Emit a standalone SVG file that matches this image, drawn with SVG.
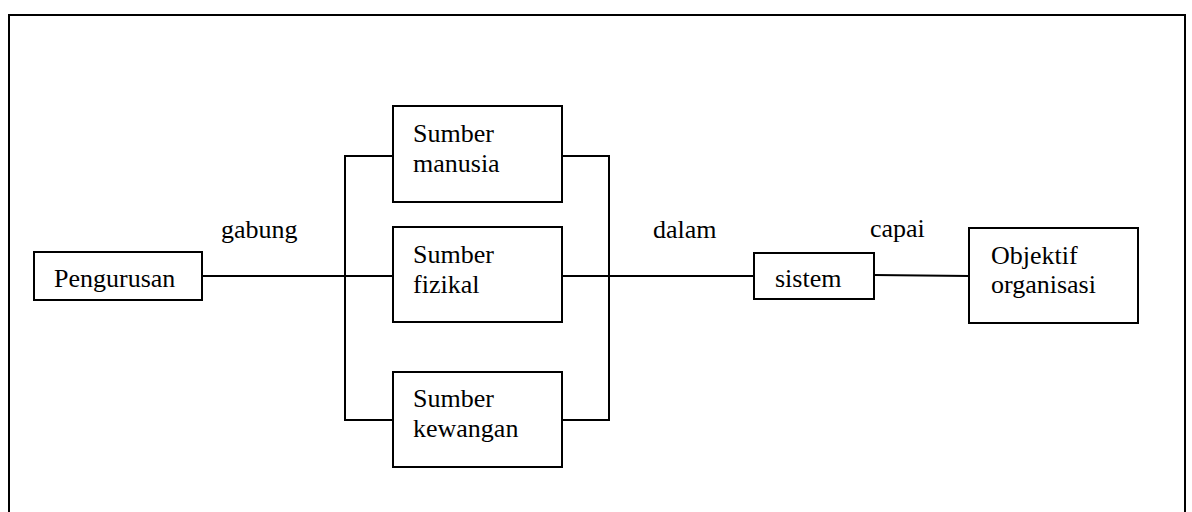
<svg xmlns="http://www.w3.org/2000/svg" width="1192" height="512" viewBox="0 0 1192 512">
<style>
.box{fill:#fff;stroke:#000;stroke-width:2}
.ln{fill:none;stroke:#000;stroke-width:2}
.t{font-family:'Liberation Serif','Times New Roman','DejaVu Serif',serif;font-size:26px;fill:#000}
</style>
<rect x="0" y="0" width="1192" height="512" fill="#fff"/>
<path class="ln" d="M9,530 V15 H1185 V530"/>
<g id="connectors">
<path class="ln" d="M202,276 H345"/>
<path class="ln" d="M393,156 H345 V420 H393"/>
<path class="ln" d="M345,276 H393"/>
<path class="ln" d="M562,156 H609 V420 H562"/>
<path class="ln" d="M562,276 H754"/>
<path class="ln" d="M874,275 L969,276"/>
<text class="t" x="221" y="238">gabung</text>
<text class="t" x="653" y="238">dalam</text>
<text class="t" x="870" y="237">capai</text>
</g>
<g id="pengurusan">
<rect class="box" x="34" y="252" width="168" height="48"/>
<text class="t" x="54" y="287">Pengurusan</text>
</g>
<g id="sumber-manusia">
<rect class="box" x="393" y="106" width="169" height="96"/>
<text class="t" x="413" y="142">Sumber</text>
<text class="t" x="413" y="172">manusia</text>
</g>
<g id="sumber-fizikal">
<rect class="box" x="393" y="227" width="169" height="95"/>
<text class="t" x="413" y="263">Sumber</text>
<text class="t" x="413" y="293">fizikal</text>
</g>
<g id="sumber-kewangan">
<rect class="box" x="393" y="372" width="169" height="95"/>
<text class="t" x="413" y="407">Sumber</text>
<text class="t" x="413" y="437">kewangan</text>
</g>
<g id="sistem">
<rect class="box" x="754" y="253" width="120" height="46"/>
<text class="t" x="775" y="287">sistem</text>
</g>
<g id="objektif">
<rect class="box" x="969" y="228" width="169" height="95"/>
<text class="t" x="991" y="264">Objektif</text>
<text class="t" x="991" y="293">organisasi</text>
</g>
</svg>
